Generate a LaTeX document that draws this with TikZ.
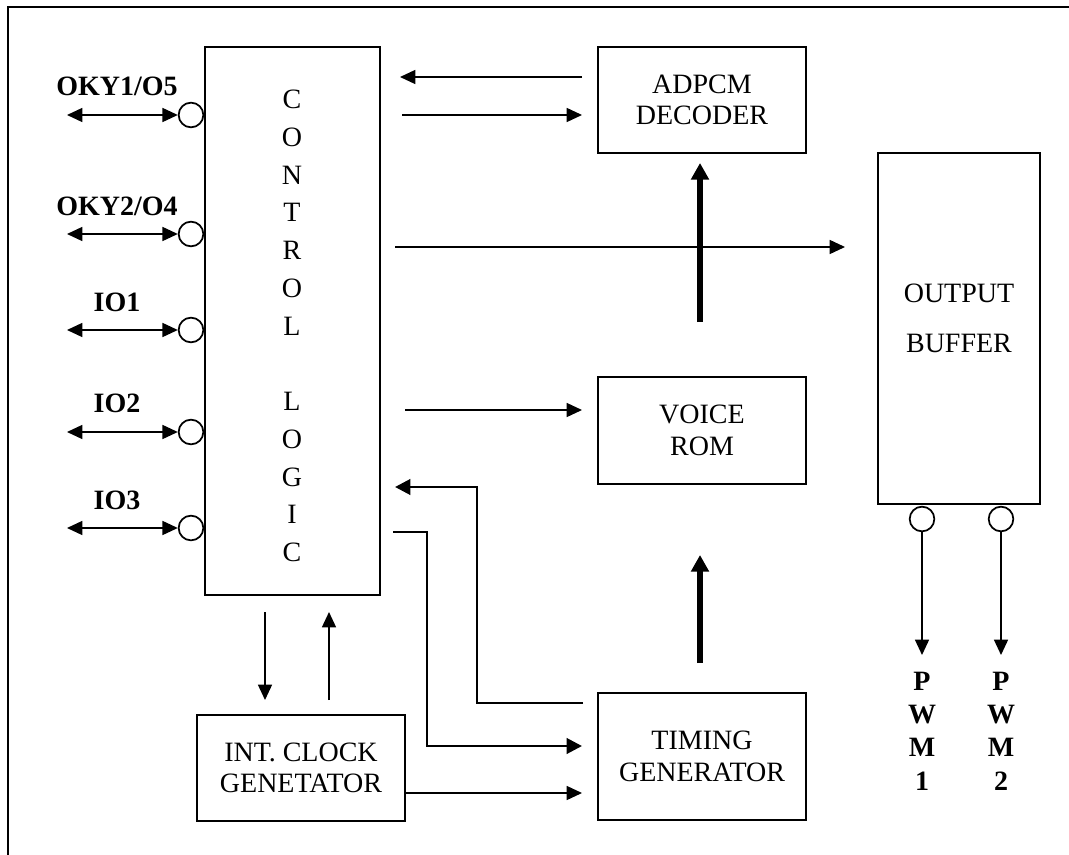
\documentclass[tikz,border=0pt]{standalone}
\usepackage{fontspec}
\setmainfont{Liberation Serif}
\usetikzlibrary{arrows.meta}
\begin{document}
\begin{tikzpicture}[x=0.75pt,y=-0.75pt,
  blk/.style={draw,line width=1.4pt,rectangle,inner sep=0pt,align=center,font=\fontsize{21}{23.5}\selectfont},
  pin/.style={draw,line width=1.3pt,circle,minimum size=18.5pt,inner sep=0pt},
  lbl/.style={font=\fontsize{21}{23}\selectfont\bfseries,inner sep=0pt},
  thin/.style={line width=1.1pt,-{Triangle[length=11.5pt,width=10.5pt]}},
  both/.style={line width=1.1pt,{Triangle[length=11.5pt,width=10.5pt]}-{Triangle[length=11.5pt,width=10.5pt]}},
  med/.style={line width=2.2pt,-{Triangle[length=11.5pt,width=11.5pt]}},
  thick/.style={line width=3.8pt,-{Triangle[length=12.5pt,width=13pt]}}]
\useasboundingbox (0,0) rectangle (1069,855);
\draw[line width=1.6pt] (8,855) -- (8,7) -- (1069,7);
% blocks
\node[blk,minimum width=131pt,minimum height=411pt] (ctl) at (292.5,321) {};
\node[font=\fontsize{21}{28.3}\selectfont,align=center,inner sep=0pt] (ctltxt) at (292,326)
  {C\\O\\N\\T\\R\\O\\L\\[28.3pt]L\\O\\G\\I\\C};
\node[blk,minimum width=156pt,minimum height=79.5pt] (adpcm) at (702,100) {ADPCM\\DECODER};
\node[blk,minimum width=156pt,minimum height=80pt] (rom) at (702,430.5) {VOICE\\ROM};
\node[blk,minimum width=156pt,minimum height=95pt] (tim) at (702,756.5) {TIMING\\GENERATOR};
\node[blk,minimum width=156pt,minimum height=79pt] (clk) at (301,768) {INT. CLOCK\\GENETATOR};
\node[blk,minimum width=122pt,minimum height=263pt] (buf) at (959,328.5) {};
\node[font=\fontsize{21}{37.5}\selectfont,align=center,inner sep=0pt] (buftxt) at (959,318) {OUTPUT\\BUFFER};
% pins on control logic
\node[pin] (p1) at (191,115) {};
\node[pin] (p2) at (191,234) {};
\node[pin] (p3) at (191,330) {};
\node[pin] (p4) at (191,432) {};
\node[pin] (p5) at (191,528) {};
\node[lbl] (l1) at (117,86) {OKY1/O5};
\node[lbl] (l2) at (117,206) {OKY2/O4};
\node[lbl] (l3) at (117,302) {IO1};
\node[lbl] (l4) at (117,403) {IO2};
\node[lbl] (l5) at (117,500) {IO3};
\coordinate (e1) at (67,115);
\coordinate (e2) at (67,234);
\coordinate (e3) at (67,330);
\coordinate (e4) at (67,432);
\coordinate (e5) at (67,528);
\draw[both] (e1) -- (p1.west);
\draw[both] (e2) -- (p2.west);
\draw[both] (e3) -- (p3.west);
\draw[both] (e4) -- (p4.west);
\draw[both] (e5) -- (p5.west);
% pins on output buffer
\node[pin] (q1) at (922,519) {};
\node[pin] (q2) at (1001,519) {};
\coordinate (f1) at (922,655);
\coordinate (f2) at (1001,655);
\draw[thin] (q1.south) -- (f1);
\draw[thin] (q2.south) -- (f2);
\node[font=\fontsize{21}{25}\selectfont\bfseries,align=center,inner sep=0pt] (pw1) at (922,731) {P\\W\\M\\1};
\node[font=\fontsize{21}{25}\selectfont\bfseries,align=center,inner sep=0pt] (pw2) at (1001,731) {P\\W\\M\\2};
% control <-> ADPCM
\coordinate (a1) at (582,77);
\coordinate (a2) at (400,77);
\coordinate (a3) at (402,115);
\coordinate (a4) at (582,115);
\draw[thin] (a1) -- (a2);
\draw[thin] (a3) -- (a4);
% control -> output buffer
\coordinate (b1) at (395,247);
\coordinate (b2) at (845,247);
\draw[thin] (b1) -- (b2);
% thick upward arrows
\coordinate (c1) at (700,322);
\coordinate (c2) at (700,163);
\draw[thick] (c1) -- (c2);
\coordinate (c3) at (700,663);
\coordinate (c4) at (700,555);
\draw[thick] (c3) -- (c4);
% control -> voice rom
\coordinate (d1) at (405,410);
\coordinate (d2) at (582,410);
\draw[thin] (d1) -- (d2);
% timing -> control feedback
\coordinate (g1) at (583,703);
\coordinate (g2) at (395,487);
\draw[med] (g1) -- (477,703) -- (477,487) -- (g2);
% control -> timing
\coordinate (h1) at (393,532);
\coordinate (h2) at (582,746);
\draw[med] (h1) -- (427,532) -- (427,746) -- (h2);
% clock -> timing
\coordinate (k2) at (582,793);
\draw[thin] (clk.east |- k2) -- (k2);
% control <-> clock
\coordinate (m1) at (265,612);
\coordinate (m2) at (265,700);
\coordinate (n1) at (329,700);
\coordinate (n2) at (329,612);
\draw[thin] (m1) -- (m2);
\draw[thin] (n1) -- (n2);
\end{tikzpicture}
\end{document}
